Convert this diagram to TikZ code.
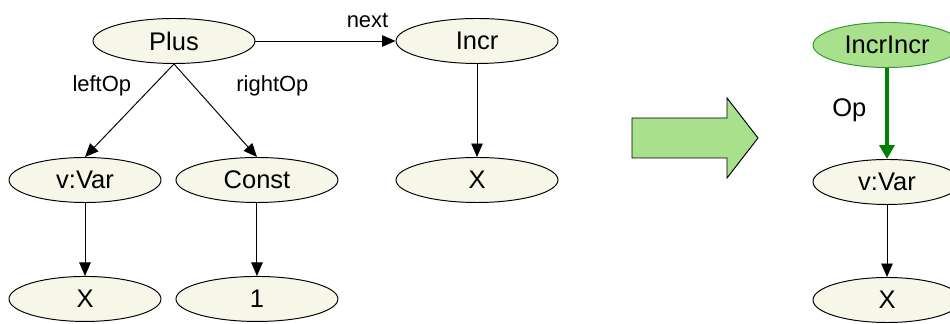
\documentclass[tikz,border=0pt]{standalone}
\usepackage{xcolor}
\usepackage{fontspec}
\setmainfont{Liberation Sans}
\usepackage{tikz}
\usetikzlibrary{shapes, arrows.meta, positioning, calc}
\definecolor{cream}{HTML}{F6F6E9}
\definecolor{lightgreen}{HTML}{A8E08C}
\definecolor{darkgreen}{HTML}{008000}

\begin{document}
\begin{tikzpicture}[
  obj/.style={ellipse, draw, line width=0.55pt, fill=cream, minimum width=3.24cm, minimum height=0.9cm, inner sep=0pt, font=\fontsize{14.5}{17}\selectfont},
  lbl/.style={inner sep=0pt, font=\fontsize{12.5}{15}\selectfont},
  link/.style={line width=0.55pt, -{Triangle[length=0.27cm, width=0.23cm]}},
  oplink/.style={draw=darkgreen, line width=2pt, -{Triangle[length=0.28cm, width=0.3cm]}}
]
\useasboundingbox (0,0) rectangle (19,-6.48);
% before
\node (plus) [obj] at (3.48,-0.82) {Plus};
\node (incr) [obj] at (9.54,-0.82) {Incr};
\node (var) [obj, minimum width=3.04cm] at (1.70,-3.60) {v:Var};
\node (const) [obj, right=0.28cm of var] {Const};
\node (xa) [obj, minimum width=3.04cm, below=1.46cm of var] {X};
\node (one) [obj, below=1.46cm of const] {1};
\node (xb) [obj] at (9.54,-3.60) {X};
\draw [link] (plus.east) -- node (nextlbl) [lbl, above=0.26cm, pos=0.8] {next} (incr.west);
\draw [link] (plus.south) -- node (leftlbl) [lbl, left=0.42cm, pos=0.24] {leftOp} (var.north);
\draw [link] (plus.south) -- node (rightlbl) [lbl, right=0.84cm, pos=0.24] {rightOp} (const.north);
\draw [link] (var) -- (xa);
\draw [link] (const) -- (one);
\draw [link] (incr) -- (xb);
% rewrite arrow
\draw [fill=lightgreen, line width=0.55pt] (12.64,-2.36) -- (14.54,-2.36) -- (14.54,-1.96) -- (15.16,-2.76)
  -- (14.54,-3.56) -- (14.54,-3.16) -- (12.64,-3.16) -- cycle;
% after
\node (incr2) [obj, fill=lightgreen, draw=darkgreen!80!white, minimum width=2.96cm] at (17.74,-0.90) {IncrIncr};
\node (var2) [obj, minimum width=2.96cm] at (17.74,-3.64) {v:Var};
\node (xc) [obj, minimum width=2.96cm] at (17.74,-6.0) {X};
\draw [oplink] (incr2) -- node (oplbl) [lbl, font=\fontsize{14.5}{17}\selectfont, left=0.38cm, pos=0.465] {Op} (var2);
\draw [link] (var2) -- (xc);
\end{tikzpicture}
\end{document}
